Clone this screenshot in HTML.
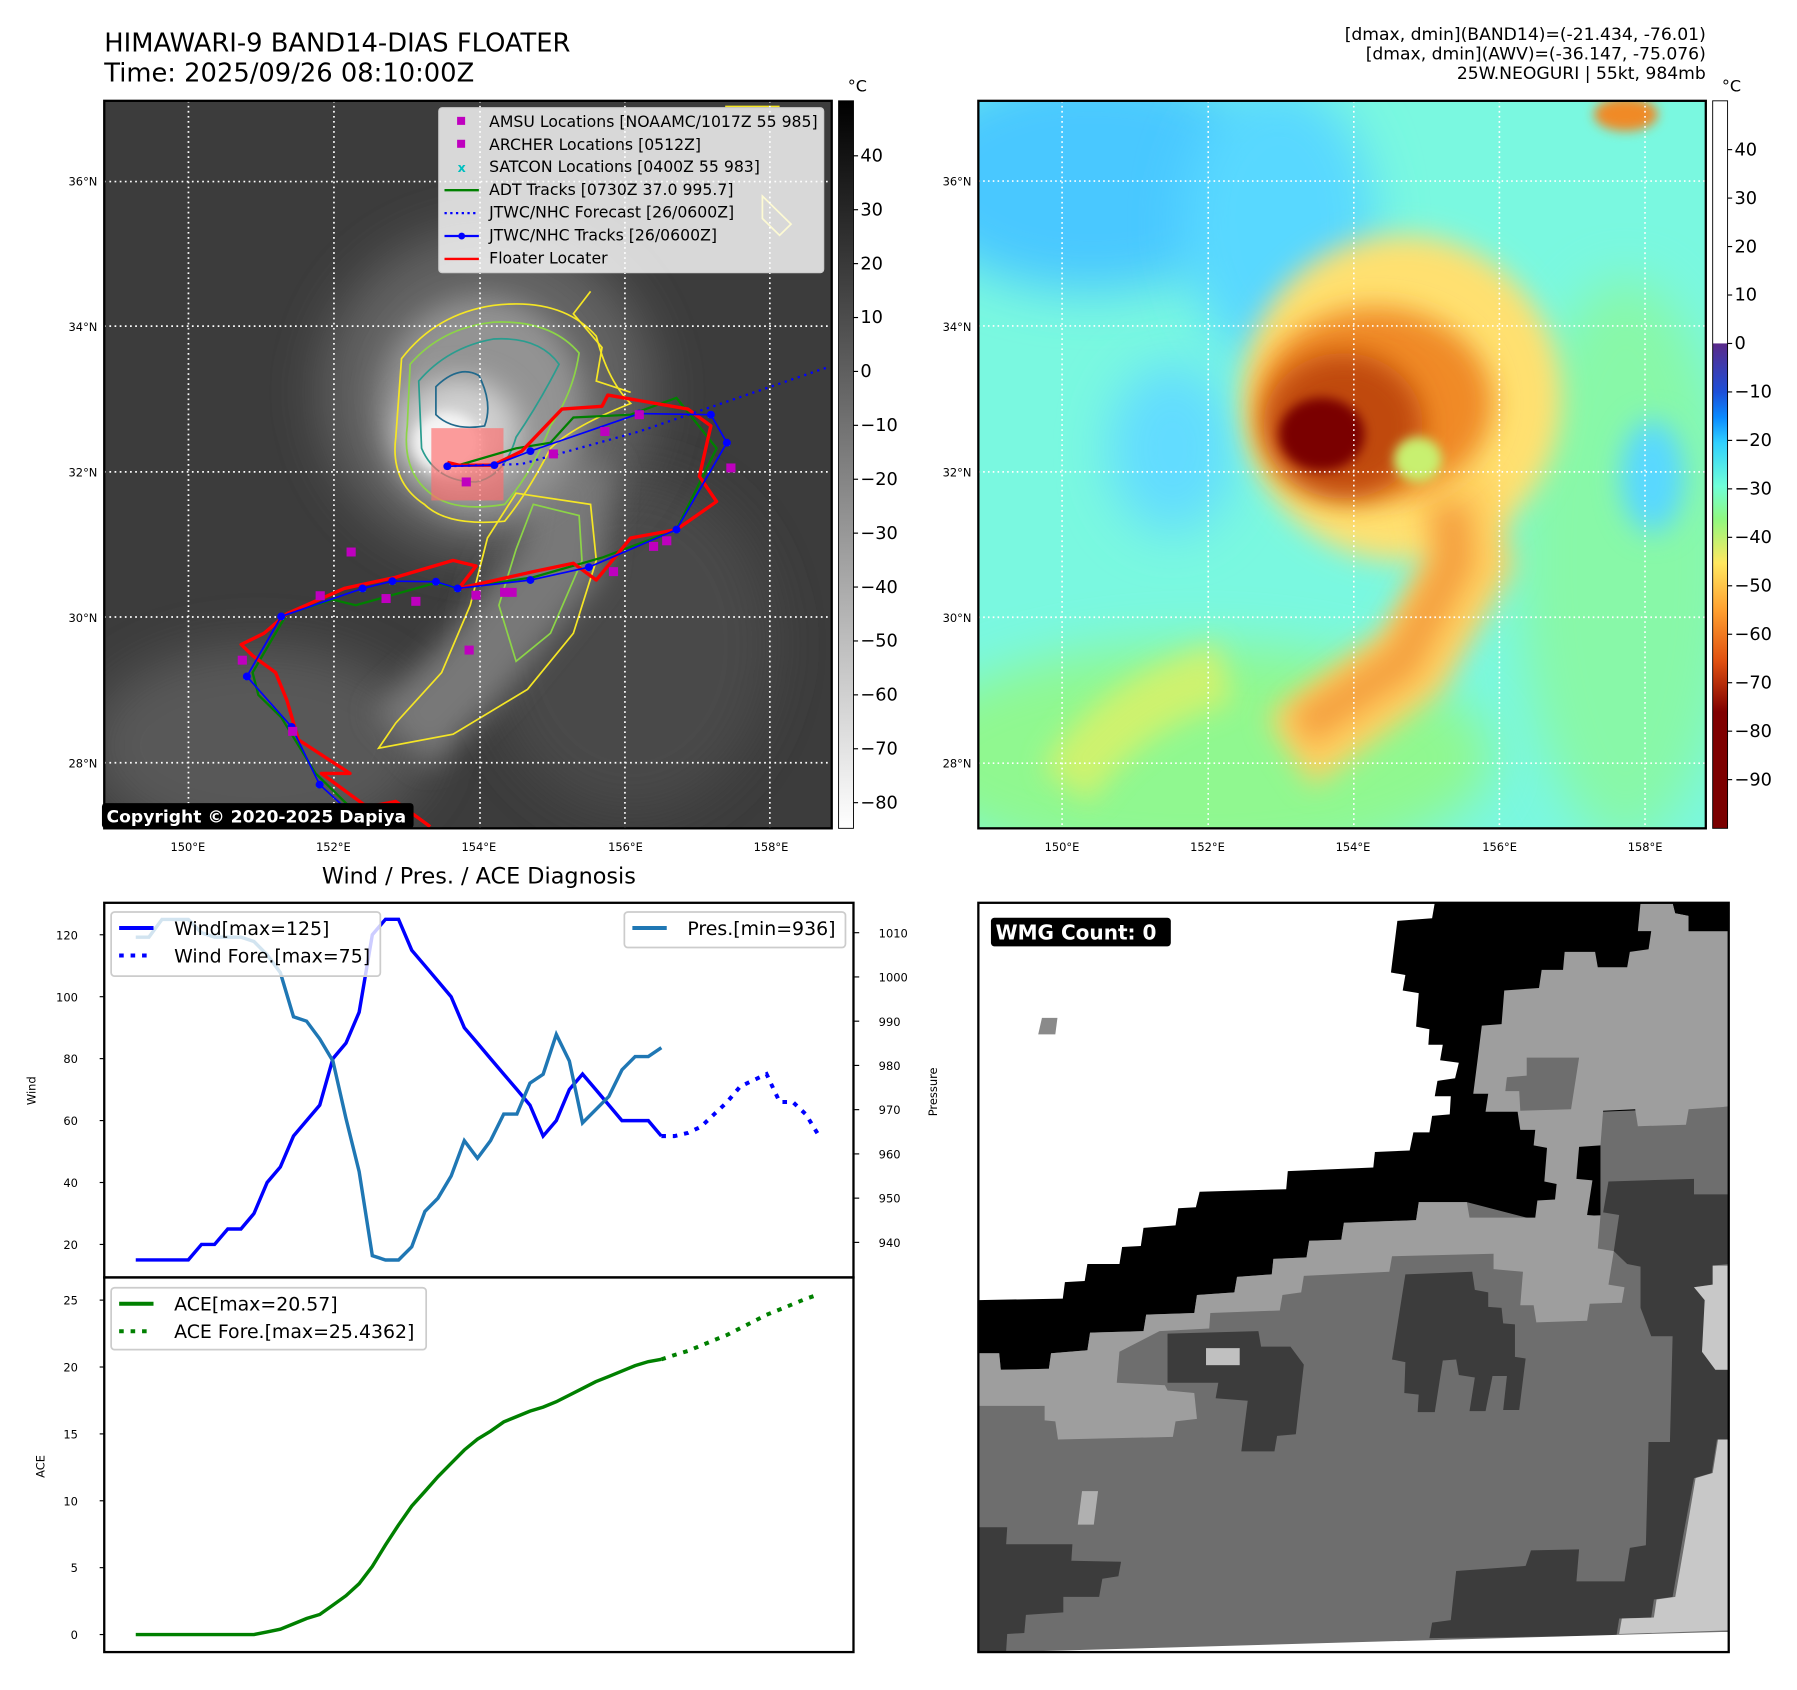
<!DOCTYPE html>
<html><head><meta charset="utf-8">
<style>
html,body{margin:0;padding:0;background:#fff;}
svg{display:block;font-family:"DejaVu Sans","Liberation Sans",sans-serif;}
</style></head>
<body>
<svg id="root" width="1797" height="1690" viewBox="0 0 1568.6 1475.1" preserveAspectRatio="none" xmlns="http://www.w3.org/2000/svg">
<defs>
  <filter id="b10" x="-50%" y="-50%" width="200%" height="200%"><feGaussianBlur stdDeviation="10"/></filter>
  <filter id="b25" x="-50%" y="-50%" width="200%" height="200%"><feGaussianBlur stdDeviation="25"/></filter>
  <filter id="b45" x="-50%" y="-50%" width="200%" height="200%"><feGaussianBlur stdDeviation="45"/></filter>
  <linearGradient id="cbGray" x1="0" y1="0" x2="0" y2="1"><stop offset="0" stop-color="#000"/><stop offset="1" stop-color="#fff"/></linearGradient>
  <linearGradient id="cbJet" x1="0" y1="0" x2="0" y2="1">
    <stop offset="0" stop-color="#fff"/><stop offset="0.333" stop-color="#fff"/>
    <stop offset="0.334" stop-color="#5a2a8a"/><stop offset="0.40" stop-color="#1e4fd8"/>
    <stop offset="0.435" stop-color="#0a8aff"/><stop offset="0.47" stop-color="#30d0ff"/>
    <stop offset="0.53" stop-color="#70ffd8"/><stop offset="0.575" stop-color="#90f880"/>
    <stop offset="0.635" stop-color="#ffe860"/><stop offset="0.70" stop-color="#ffa030"/>
    <stop offset="0.77" stop-color="#e05010"/><stop offset="0.84" stop-color="#800000"/>
    <stop offset="1" stop-color="#7a0000"/>
  </linearGradient>
</defs>

<!-- Titles -->
<text x="91" y="45" font-size="22.5">HIMAWARI-9 BAND14-DIAS FLOATER</text>
<text x="91" y="71" font-size="22.5">Time: 2025/09/26 08:10:00Z</text>
<g font-size="15" text-anchor="end">
  <text x="1489" y="35">[dmax, dmin](BAND14)=(-21.434, -76.01)</text>
  <text x="1489" y="52">[dmax, dmin](AWV)=(-36.147, -75.076)</text>
  <text x="1489" y="69">25W.NEOGURI | 55kt, 984mb</text>
</g>

<!-- LEFT MAP -->
<svg x="91" y="88" width="635" height="635" viewBox="181 180 1270 1298" preserveAspectRatio="none">
  <rect x="181" y="180" width="1270" height="1298" fill="#3c3c3c"/>
  <ellipse cx="450" cy="1330" rx="300" ry="180" fill="#585858" filter="url(#b45)"/>
  <ellipse cx="1100" cy="1150" rx="250" ry="300" fill="#4a4a4a" filter="url(#b45)"/>
  <ellipse cx="850" cy="700" rx="290" ry="290" fill="#646464" filter="url(#b45)"/>
  <path d="M1000 820 L980 1000 L820 1200 L700 1320" stroke="#787878" stroke-width="140" fill="none" filter="url(#b25)"/>
  <ellipse cx="840" cy="730" rx="180" ry="200" fill="#939393" filter="url(#b25)"/>
  <ellipse cx="800" cy="770" rx="105" ry="95" fill="#d0d0d0" filter="url(#b25)"/>
  <ellipse cx="780" cy="790" rx="60" ry="55" fill="#f4f4f4" filter="url(#b10)"/>
  <g fill="none" stroke-width="3">
    <path d="M700 640 Q760 560 860 545 Q980 530 1040 600 Q1060 680 1100 720 Q1000 760 960 800 Q920 880 880 930 Q780 940 740 900 Q680 860 690 780 Z" stroke="#f5e625"/>
    <path d="M715 650 Q770 585 860 575 Q960 570 1010 630 Q1000 700 960 760 Q930 840 880 900 Q790 915 750 880 Q700 840 710 760 Z" stroke="#8cd447"/>
    <path d="M730 680 Q780 620 860 605 Q940 600 975 650 Q940 720 900 780 Q880 850 830 860 Q760 860 735 800 Z" stroke="#2a9d8f"/>
    <path d="M760 690 Q800 650 835 670 Q860 720 845 760 Q790 770 760 740 Z" stroke="#21698c"/>
    <path d="M900 880 L1030 900 L1040 1000 L1000 1130 L920 1230 L790 1310 L660 1335 L690 1290 L770 1200 L820 1080 L850 960 Z" stroke="#f5e625"/>
    <path d="M930 900 L1010 920 L1015 1000 L960 1130 L900 1180 L870 1080 L900 980 Z" stroke="#8cd447"/>
    <path d="M1030 520 L1000 560 L1050 620 L1040 680 L1100 700" stroke="#f5e625"/>
    <path d="M1265 190 L1360 190 M1330 350 L1380 400 L1360 420 L1330 390 Z" stroke="#f5e625"/>
  </g>
  <g stroke="#fff" stroke-width="3" stroke-dasharray="3 6">
    <line x1="328" y1="180" x2="328" y2="1478"/><line x1="582" y1="180" x2="582" y2="1478"/>
    <line x1="837" y1="180" x2="837" y2="1478"/><line x1="1090" y1="180" x2="1090" y2="1478"/>
    <line x1="1343" y1="180" x2="1343" y2="1478"/>
    <line x1="181" y1="324" x2="1451" y2="324"/><line x1="181" y1="582" x2="1451" y2="582"/>
    <line x1="181" y1="842" x2="1451" y2="842"/><line x1="181" y1="1101" x2="1451" y2="1101"/>
    <line x1="181" y1="1361" x2="1451" y2="1361"/>
  </g>
  <rect x="752" y="764" width="126" height="129" fill="#ff6b6b" opacity="0.65"/>
  <g id="tracks"></g>
</svg>
<rect x="91" y="88" width="635" height="635" fill="none" stroke="#000" stroke-width="2"/>

<!-- left legend -->
<g>
  <rect x="383" y="94" width="336" height="144" rx="3" fill="#fff" fill-opacity="0.8" stroke="#ccc"/>
  <g font-size="13.7">
    <rect x="399" y="102" width="7" height="7" fill="#bf00bf"/><text x="427" y="111">AMSU Locations [NOAAMC/1017Z 55 985]</text>
    <rect x="399" y="122" width="7" height="7" fill="#bf00bf"/><text x="427" y="131">ARCHER Locations [0512Z]</text>
    <text x="403" y="150" fill="#00bfbf" font-size="11" text-anchor="middle" font-weight="bold">x</text><text x="427" y="150">SATCON Locations [0400Z 55 983]</text>
    <line x1="388" y1="166" x2="418" y2="166" stroke="#008000" stroke-width="2"/><text x="427" y="170">ADT Tracks [0730Z 37.0 995.7]</text>
    <line x1="388" y1="186" x2="418" y2="186" stroke="#00f" stroke-width="2" stroke-dasharray="2 3"/><text x="427" y="190">JTWC/NHC Forecast [26/0600Z]</text>
    <line x1="388" y1="206" x2="418" y2="206" stroke="#00f" stroke-width="2"/><circle cx="403" cy="206" r="3" fill="#00f"/><text x="427" y="210">JTWC/NHC Tracks [26/0600Z]</text>
    <line x1="388" y1="226" x2="418" y2="226" stroke="#f00" stroke-width="2"/><text x="427" y="230">Floater Locater</text>
  </g>
</g>
<g>
  <rect x="89" y="701" width="272" height="22" rx="3" fill="#000"/>
  <text x="93" y="718" fill="#fff" font-size="15" font-weight="bold">Copyright © 2020-2025 Dapiya</text>
</g>

<!-- left colorbar -->
<g>
  <rect x="732" y="88" width="13" height="635" fill="url(#cbGray)" stroke="#000" stroke-width="0.8"/>
  <text x="740" y="80" font-size="14">°C</text>
  <g id="cbL" font-size="15.5"></g>
</g>

<!-- RIGHT MAP -->
<svg x="854" y="88" width="635" height="635" viewBox="36 181 1364 1296" preserveAspectRatio="none">
  <rect x="36" y="181" width="1364" height="1296" fill="#7af8e0"/>
  <ellipse cx="250" cy="320" rx="350" ry="200" fill="#48c8ff" filter="url(#b45)"/>
  <ellipse cx="600" cy="400" rx="180" ry="250" fill="#58d8ff" filter="url(#b45)"/>
  <ellipse cx="450" cy="1350" rx="550" ry="200" fill="#90f890" filter="url(#b45)"/>
  <ellipse cx="1250" cy="1000" rx="200" ry="500" fill="#88f8a8" filter="url(#b45)"/>
  <ellipse cx="1300" cy="850" rx="60" ry="100" fill="#58d8ff" filter="url(#b25)"/>
  <ellipse cx="400" cy="800" rx="120" ry="150" fill="#62dcff" filter="url(#b45)"/>
  <path d="M200 1400 Q300 1250 500 1200" stroke="#e8f060" stroke-width="110" fill="none" filter="url(#b25)" opacity="0.7"/>
  <ellipse cx="830" cy="710" rx="300" ry="290" fill="#ffe070" filter="url(#b25)"/>
  <path d="M920 860 L960 1000 L850 1180 L620 1340" stroke="#ffd060" stroke-width="150" fill="none" filter="url(#b25)"/>
  <path d="M920 900 L930 1000 L830 1180 L640 1300" stroke="#f5a040" stroke-width="70" fill="none" filter="url(#b25)"/>
  <ellipse cx="780" cy="720" rx="220" ry="170" fill="#f08a28" filter="url(#b25)"/>
  <ellipse cx="720" cy="760" rx="150" ry="130" fill="#c04808" filter="url(#b25)"/>
  <ellipse cx="680" cy="775" rx="80" ry="65" fill="#7a0000" filter="url(#b10)"/>
  <ellipse cx="860" cy="820" rx="45" ry="40" fill="#c8f070" filter="url(#b10)"/>
  <ellipse cx="1250" cy="205" rx="60" ry="30" fill="#f08a28" filter="url(#b10)"/>
  <g stroke="#fff" stroke-width="3" stroke-dasharray="3 6">
    <line x1="193" y1="181" x2="193" y2="1477"/><line x1="467" y1="181" x2="467" y2="1477"/>
    <line x1="740" y1="181" x2="740" y2="1477"/><line x1="1013" y1="181" x2="1013" y2="1477"/>
    <line x1="1286" y1="181" x2="1286" y2="1477"/>
    <line x1="36" y1="324" x2="1400" y2="324"/><line x1="36" y1="582" x2="1400" y2="582"/>
    <line x1="36" y1="842" x2="1400" y2="842"/><line x1="36" y1="1101" x2="1400" y2="1101"/>
    <line x1="36" y1="1361" x2="1400" y2="1361"/>
  </g>
</svg>
<rect x="854" y="88" width="635" height="635" fill="none" stroke="#000" stroke-width="2"/>
<g>
  <rect x="1495" y="88" width="13" height="635" fill="url(#cbJet)" stroke="#000" stroke-width="0.8"/>
  <text x="1503" y="80" font-size="14">°C</text>
  <g id="cbR" font-size="15.5"></g>
</g>

<!-- Map axis labels -->
<g id="mapLabels" font-size="10"></g>

<!-- WMG panel -->
<svg x="854" y="788" width="655" height="654" viewBox="36 45 1404 1452" preserveAspectRatio="none">
  <rect x="36" y="45" width="1404" height="1452" fill="#6e6e6e"/>
  <polygon fill="#000" points="36,45 1440,45 1440,440 1200,450 1200,650 1080,660 950,625 860,625 855,660 720,665 715,698 655,700 650,732 588,735 585,765 520,770 515,800 445,805 440,840 350,843 345,875 245,878 240,912 172,918 168,948 78,950 75,918 36,918"/>
  <polygon fill="#9e9e9e" points="36,918 75,918 78,950 168,948 172,918 240,912 245,878 345,875 350,843 440,840 445,805 515,800 520,770 585,765 588,735 650,732 655,700 715,698 720,665 855,660 860,625 950,625 955,655 1078,655 1082,622 1115,620 1118,590 1095,585 1100,520 1075,515 1078,485 1050,485 1045,450 985,450 990,415 962,415 970,350 978,283 1015,280 1020,215 1085,210 1090,175 1130,175 1133,140 1190,140 1195,170 1250,170 1255,140 1290,135 1295,100 1270,100 1275,45 1335,45 1340,65 1365,70 1365,100 1440,100 1440,440 1365,445 1360,475 1270,478 1265,445 1205,448 1200,515 1160,518 1155,580 1185,583 1175,650 1200,652 1195,715 1225,720 1215,785 1245,790 1240,820 1180,822 1175,855 1080,858 1075,825 1050,825 1055,760 1000,755 1000,725 810,730 805,760 645,768 640,800 605,805 600,835 470,840 468,870 375,875 300,915 295,975 385,980 390,990 440,995 445,1045 405,1050 400,1080 185,1085 180,1050 160,1048 160,1020 36,1020"/>
  <polygon fill="#000" points="1335,45 1440,45 1440,100 1365,100 1365,70 1340,65"/>
  <polygon fill="#fff" points="36,45 890,45 885,75 820,80 808,180 835,185 830,215 860,220 855,285 880,290 878,320 905,320 900,350 935,355 928,385 895,390 890,420 920,420 918,455 885,458 880,490 850,490 843,525 778,528 775,558 615,565 612,600 450,605 443,635 410,637 405,670 345,675 340,710 305,712 300,745 240,745 235,778 198,780 194,812 36,815"/>
  <g fill="#3c3c3c">
    <polygon points="390,880 560,875 565,905 620,905 645,940 630,1075 595,1078 590,1108 528,1108 540,1010 480,1005 485,975 390,975"/>
    <polygon points="835,765 960,760 965,795 990,800 990,828 1015,830 1018,860 1040,862 1040,925 1060,928 1048,1028 1018,1028 1025,962 998,962 985,1030 955,1030 965,965 935,960 930,930 905,932 890,1032 858,1032 860,998 833,995 835,935 810,930"/>
    <polygon points="1215,585 1375,580 1375,610 1440,610 1440,745 1410,748 1410,785 1375,790 1398,815 1390,915 1415,950 1440,950 1440,1085 1418,1085 1408,1150 1375,1160 1355,1270 1335,1390 1300,1395 1295,1430 1235,1432 1230,1465 880,1470 885,1440 920,1435 930,1340 1060,1330 1070,1300 1160,1298 1155,1360 1245,1360 1255,1295 1285,1290 1290,1090 1330,1090 1335,885 1295,885 1275,830 1275,750 1250,745 1225,720 1235,650 1205,645"/>
    <polygon points="36,1255 90,1255 88,1288 212,1288 210,1320 303,1322 298,1350 268,1355 262,1390 195,1390 195,1420 125,1425 122,1460 90,1462 88,1495 36,1495"/>
  </g>
  <polygon fill="#6e6e6e" points="1062,345 1160,345 1145,445 1050,448 1048,410 1022,410 1025,383 1062,380"/>
  <polygon fill="#c8c8c8" points="1410,748 1440,748 1440,1455 1235,1462 1240,1432 1300,1430 1305,1395 1340,1390 1360,1270 1378,1160 1410,1150 1420,1085 1440,1085 1440,950 1415,950 1390,915 1395,815 1375,790 1410,785"/>
  <polygon fill="#fff" points="88,1497 1425,1458 1440,1458 1440,1497"/>
  <rect x="462" y="908" width="63" height="33" fill="#c0c0c0"/>
  <polygon fill="#8a8a8a" points="155,268 184,268 180,300 148,300"/>
  <polygon fill="#b0b0b0" points="230,1185 260,1185 252,1250 222,1250"/>
</svg>
<rect x="854" y="788" width="655" height="654" fill="none" stroke="#000" stroke-width="2"/>
<g>
  <rect x="865" y="801" width="157" height="25" rx="3" fill="#000"/>
  <text x="869" y="820" fill="#fff" font-size="17.5" font-weight="bold">WMG Count: 0</text>
</g>

<!-- Diagnosis chart -->
<text x="418" y="771" font-size="19.5" text-anchor="middle">Wind / Pres. / ACE Diagnosis</text>
<g id="chart"></g>
<rect x="91" y="788" width="654" height="327" fill="none" stroke="#000" stroke-width="2"/>
<rect x="91" y="1115" width="654" height="327" fill="none" stroke="#000" stroke-width="2"/>

<script>
// ---- chart data ----
const windObs = [15,15,15,15,15,20,20,25,25,30,40,45,55,60,65,80,85,95,120,125,125,115,110,105,100,90,85,80,75,70,65,55,60,70,75,70,65,60,60,60,55];
const windFore = [55,55,56,58,62,66,71,73,75,66,66,62,55];
const presObs = [1009,1009,1013,1013,1013,1010,1009,1009,1009,1008,1005,1001,991,990,986,981,968,956,937,936,936,939,947,950,955,963,959,963,969,969,976,978,987,981,967,970,973,979,982,982,984];
const aceObs = [0,0,0,0,0,0,0,0,0,0,0.2,0.4,0.8,1.2,1.5,2.2,2.9,3.8,5.1,6.7,8.2,9.6,10.7,11.8,12.8,13.8,14.6,15.2,15.9,16.3,16.7,17.0,17.4,17.9,18.4,18.9,19.3,19.7,20.1,20.4,20.57];
const aceFore = [20.57,20.9,21.2,21.6,22.0,22.4,22.9,23.4,23.9,24.3,24.7,25.1,25.44];
const windTicks = [20,40,60,80,100,120];
const presTicks = [940,950,960,970,980,990,1000,1010];
const aceTicks = [0,5,10,15,20,25];

const NS='http://www.w3.org/2000/svg';
function mk(tag, attrs, parent){const e=document.createElementNS(NS,tag);for(const k in attrs)e.setAttribute(k,attrs[k]);parent.appendChild(e);return e;}
const chart=document.getElementById('chart');
const nSteps = windObs.length - 1 + windFore.length - 1;
const xS = i => 118.5 + i*(715-118.5)/nSteps;
const yWind = v => 1086.2 - (v-20)*(1086.2-815.9)/100;
const yPres = v => 1084.4 - (v-940)*(1084.4-814.1)/70;
const yAce = v => 1426.7 - v*(1426.7-1134.8)/25;
function pts(arr, fy, off){return arr.map((v,i)=>xS(i+off).toFixed(1)+','+fy(v).toFixed(1)).join(' ');}

windTicks.forEach(v=>{const y=yWind(v);
  const t=mk('line',{x1:87,x2:91,y1:y,y2:y,stroke:'#000'},chart);
  
  
  const l=mk('text',{x:68,y:y+4,'font-size':10,'text-anchor':'end'},chart);l.textContent=v;
  
  });
presTicks.forEach(v=>{const y=yPres(v);
  const t=mk('line',{x1:745,x2:750,y1:y,y2:y,stroke:'#000'},chart);
  
  
  const l=mk('text',{x:767,y:y+4,'font-size':10},chart);l.textContent=v;
  
  });
aceTicks.forEach(v=>{const y=yAce(v);
  const t=mk('line',{x1:87,x2:91,y1:y,y2:y,stroke:'#000'},chart);
  
  
  const l=mk('text',{x:68,y:y+4,'font-size':10,'text-anchor':'end'},chart);l.textContent=v;
  
  });
let t1=mk('text',{x:31,y:952,'font-size':10,'text-anchor':'middle',transform:'rotate(-90 31 952)'},chart);t1.textContent='Wind';


let t2=mk('text',{x:818,y:953,'font-size':10,'text-anchor':'middle',transform:'rotate(-90 818 953)'},chart);t2.textContent='Pressure';


let t3=mk('text',{x:39,y:1280,'font-size':10,'text-anchor':'middle',transform:'rotate(-90 39 1280)'},chart);t3.textContent='ACE';



let s;
s=mk('polyline',{points:pts(windObs,yWind,0),fill:'none',stroke:'#0000ff','stroke-width':3},chart);


s=mk('polyline',{points:pts(windFore,yWind,windObs.length-1),fill:'none',stroke:'#0000ff','stroke-width':3.5,'stroke-dasharray':'4 6'},chart);


s=mk('polyline',{points:pts(presObs,yPres,0),fill:'none',stroke:'#1f77b4','stroke-width':3},chart);


s=mk('polyline',{points:pts(aceObs,yAce,0),fill:'none',stroke:'#008000','stroke-width':3},chart);


s=mk('polyline',{points:pts(aceFore,yAce,aceObs.length-1),fill:'none',stroke:'#008000','stroke-width':3.5,'stroke-dasharray':'4 6'},chart);



function legend(name,x,y,w,h,items){
  const g=mk('g',{},chart);
  
  
  mk('rect',{x:x,y:y,width:w,height:h,rx:3,fill:'#fff','fill-opacity':0.8,stroke:'#ccc','stroke-width':1.5},g);
  items.forEach((it,i)=>{const yy=y+14+i*24;
    mk('line',{x1:x+7,x2:x+37,y1:yy,y2:yy,stroke:it.c,'stroke-width':3.5,'stroke-dasharray':it.d?'4 6':'none'},g);
    const tx=mk('text',{x:x+55,y:yy+6,'font-size':16.5},g);tx.textContent=it.t;});
}
legend('wind-legend',97,796,235,56,[{c:'#0000ff',t:'Wind[max=125]'},{c:'#0000ff',t:'Wind Fore.[max=75]',d:1}]);
legend('pressure-legend',545,796,193,31,[{c:'#1f77b4',t:'Pres.[min=936]'}]);
legend('ace-legend',97,1124,275,54,[{c:'#008000',t:'ACE[max=20.57]'},{c:'#008000',t:'ACE Fore.[max=25.4362]',d:1}]);

// ---- map tracks (zoom coords of left map) ----
const blueTrack=[[600,1440],[557,1400],[508,1297],[430,1207],[490,1100],[632,1050],[684,1037],[760,1038],[798,1050],[925,1035],[1027,1012],[1180,945],[1268,790],[1240,740],[1115,738],[925,805],[862,830],[780,832]];
const blueFore=[[780,832],[910,828],[1115,770],[1445,655]];
const redTrack=[[750,1475],[690,1430],[640,1440],[560,1380],[610,1380],[520,1320],[500,1250],[480,1200],[440,1170],[420,1150],[460,1130],[500,1095],[600,1050],[690,1030],[790,1000],[830,1010],[800,1050],[930,1020],[1000,1005],[1040,1035],[1100,960],[1180,945],[1250,895],[1220,850],[1240,760],[1200,730],[1060,705],[1050,725],[980,730],[910,805],[860,830],[800,830],[780,825]];
const greenTrack=[[610,1440],[550,1380],[490,1280],[450,1240],[440,1200],[500,1095],[580,1070],[620,1080],[760,1040],[800,1050],[930,1030],[1050,995],[1180,945],[1250,800],[1180,710],[1100,740],[1000,745],[960,790],[900,800],[800,830]];
const magentaPts=[[612,985],[558,1063],[673,1068],[725,1073],[830,1062],[880,1057],[893,1057],[818,1160],[422,1178],[510,1305],[965,810],[1055,770],[1115,740],[1275,835],[1140,975],[1163,965],[1070,1020],[813,860]];
const tracks=document.getElementById('tracks');
const P=a=>a.map(p=>p.join(',')).join(' ');
let tr;
tr=mk('polyline',{points:P(greenTrack),fill:'none',stroke:'#008000','stroke-width':4},tracks);


blueTrack.forEach(p=>{const c=mk('text',{x:p[0],y:p[1]+6,fill:'#00bfbf','font-size':18,'text-anchor':'middle','font-weight':'bold'},tracks);c.textContent='x';
  
  });
tr=mk('polyline',{points:P(redTrack),fill:'none',stroke:'#ff0000','stroke-width':6,'stroke-linejoin':'round'},tracks);


tr=mk('polyline',{points:P(blueTrack),fill:'none',stroke:'#0000ff','stroke-width':3},tracks);


blueTrack.forEach(p=>{const c=mk('circle',{cx:p[0],cy:p[1],r:7,fill:'#0000ff'},tracks);
  
  });
tr=mk('polyline',{points:P(blueFore),fill:'none',stroke:'#0000ff','stroke-width':4,'stroke-dasharray':'4 8'},tracks);


magentaPts.forEach(p=>{const r=mk('rect',{x:p[0]-8,y:p[1]-8,width:16,height:16,fill:'#bf00bf'},tracks);
  
  });

// ---- colorbars ----
const cbLTicks=[40,30,20,10,0,-10,-20,-30,-40,-50,-60,-70,-80];
const cbRTicks=[40,30,20,10,0,-10,-20,-30,-40,-50,-60,-70,-80,-90];
const cbL=document.getElementById('cbL'), cbR=document.getElementById('cbR');
cbLTicks.forEach(v=>{const y=136+(40-v)*4.705;
  mk('line',{x1:745,x2:749,y1:y,y2:y,stroke:'#000'},cbL);
  const t=mk('text',{x:751,y:y+5},cbL);t.textContent=String(v).replace('-','\u2212');
  
  });
cbRTicks.forEach(v=>{const y=130.6+(40-v)*4.23;
  mk('line',{x1:1508,x2:1512,y1:y,y2:y,stroke:'#000'},cbR);
  const t=mk('text',{x:1514,y:y+5},cbR);t.textContent=String(v).replace('-','\u2212');
  
  });

// ---- map labels ----
const lats=['36°N','34°N','32°N','30°N','28°N'], latY=[158,285,412,539,666];
const lons=['150°E','152°E','154°E','156°E','158°E'], lonX=[164,291,418,546,673];
const ml=document.getElementById('mapLabels');
[0,763].forEach(off=>{
  lats.forEach((s,i)=>{const t=mk('text',{x:85+off,y:latY[i]+4,'text-anchor':'end'},ml);t.textContent=s;
    
    });
  lons.forEach((s,i)=>{const t=mk('text',{x:lonX[i]+off,y:743,'text-anchor':'middle'},ml);t.textContent=s;
    
    });
});
</script>
</svg>
</body></html>
